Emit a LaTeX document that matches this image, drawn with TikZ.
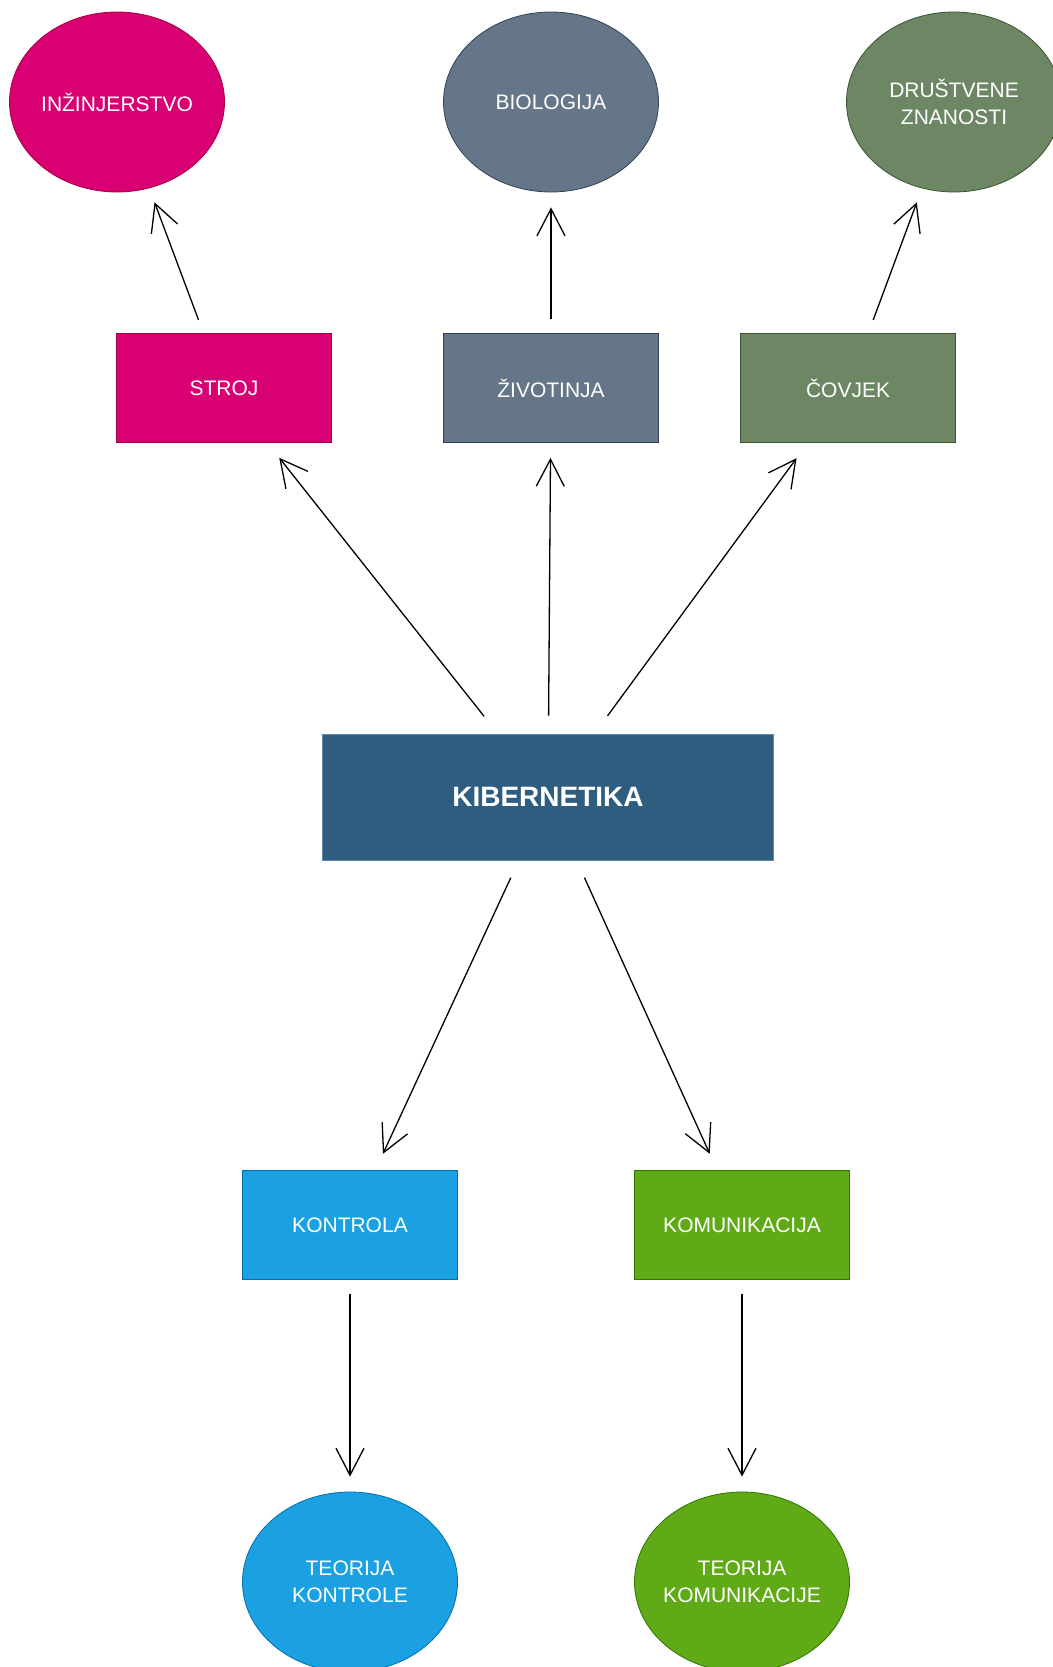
\documentclass[tikz,border=0pt]{standalone}
\usepackage{fontspec}
\setmainfont{Liberation Sans}
\usetikzlibrary{arrows.meta, shapes.geometric}

\definecolor{mag}{HTML}{D80073}  \definecolor{magline}{HTML}{A50040}
\definecolor{slate}{HTML}{647687} \definecolor{slateline}{HTML}{314354}
\definecolor{olive}{HTML}{6D8764} \definecolor{oliveline}{HTML}{3A5431}
\definecolor{kib}{HTML}{2F5D7F}   \definecolor{kibline}{HTML}{5F86A6}
\definecolor{cyan}{HTML}{1BA1E2}  \definecolor{cyanline}{HTML}{006EAF}
\definecolor{green}{HTML}{60A917} \definecolor{greenline}{HTML}{2D7600}

\begin{document}
\begin{tikzpicture}[
                > = {Straight Barb[length=27pt, width=28pt]}, % arrow head style
                x = 1pt, y = -1pt, % one unit per pixel, y going down
                line width = 1.3pt % line style
            ]

            \tikzstyle{box}=[draw, rectangle, inner sep = 0pt, line width = 0.8pt,
            minimum width = 215pt, minimum height = 109pt, align = center,
            text = white, font = \fontsize{21}{27}\selectfont]
            \tikzstyle{oval}=[box, ellipse, inner sep = -20pt, minimum height = 180pt]

            \useasboundingbox (0,0) rectangle (1052,1667);

            \node (inz) [oval, fill=mag, draw=magline] at (117,102) {INŽINJERSTVO};
            \node (bio) [oval, fill=slate, draw=slateline] at (551,102) {BIOLOGIJA};
            \node (dru) [oval, fill=olive, draw=oliveline] at (954,102) {DRUŠTVENE\\ZNANOSTI};

            \node (stroj) [box, fill=mag, draw=magline] at (224,388) {STROJ};
            \node (ziv) [box, fill=slate, draw=slateline] at (551,388) {ŽIVOTINJA};
            \node (cov) [box, fill=olive, draw=oliveline] at (848,388) {ČOVJEK};

            \node (kib) [box, fill=kib, draw=kibline, minimum width = 451pt,
            minimum height = 126pt, font = \fontsize{28}{34}\selectfont\bfseries]
            at (548,797) {KIBERNETIKA};

            \node (kon) [box, fill=cyan, draw=cyanline] at (350,1225) {KONTROLA};
            \node (kom) [box, fill=green, draw=greenline] at (742,1225)
            {KOMUNIKACIJA};

            \node (tkon) [oval, fill=cyan, draw=cyanline] at (350,1582)
            {TEORIJA\\KONTROLE}; \node (tkom) [oval, fill=green, draw=greenline]
            at (742,1582) {TEORIJA\\KOMUNIKACIJE};

            \path[->, shorten < = 14pt, shorten > = 15pt] (stroj) edge (inz);
            \path[->, shorten < = 14pt, shorten > = 15pt] (ziv) edge (bio);
            \path[->, shorten < = 14pt, shorten > = 15pt] (cov) edge (dru);
            \path[->, shorten < = 22pt, shorten > = 19pt] (kib) edge (stroj);
            \path[->, shorten < = 18pt, shorten > = 15pt] (kib) edge (ziv);
            \path[->, shorten < = 22pt, shorten > = 19pt] (kib) edge (cov);
            \path[->, shorten < = 19pt, shorten > = 18pt] (kib) edge (kon);
            \path[->, shorten < = 19pt, shorten > = 18pt] (kib) edge (kom);
            \path[->, shorten < = 14pt, shorten > = 15pt] (kon) edge (tkon);
            \path[->, shorten < = 14pt, shorten > = 15pt] (kom) edge (tkom);

        \end{tikzpicture}
\end{document}
